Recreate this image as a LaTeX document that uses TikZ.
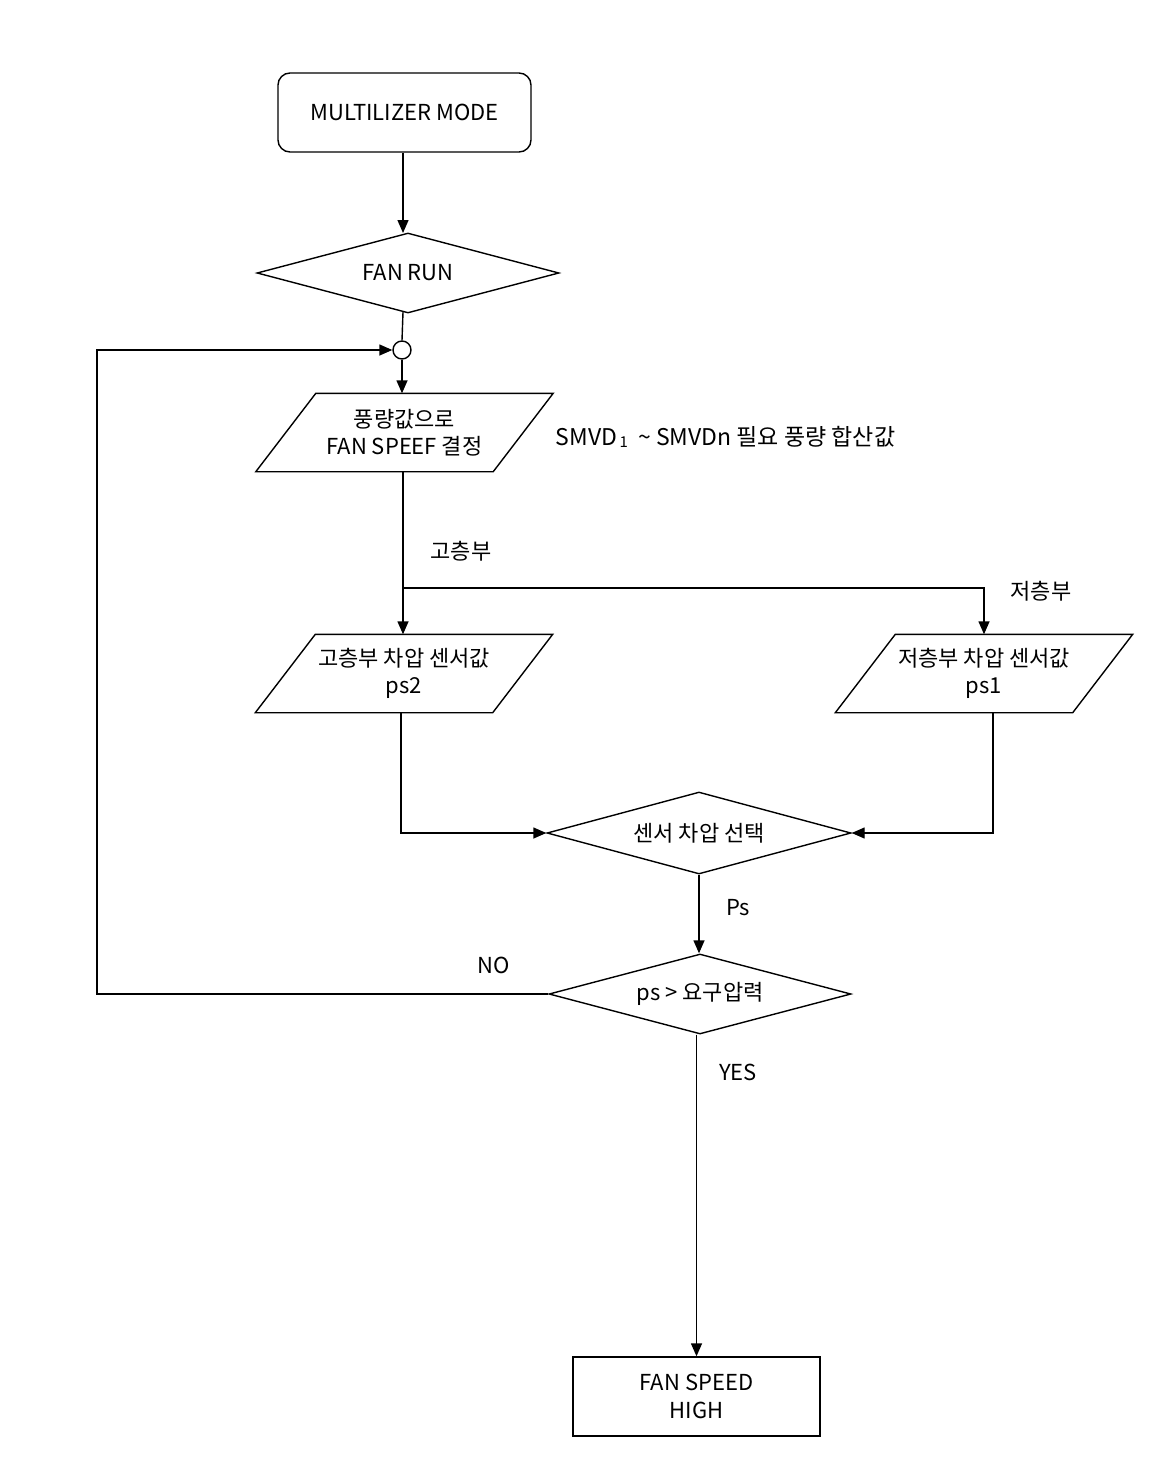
\documentclass[tikz,border=0pt]{standalone}
\usepackage{fontspec}
\setmainfont{Noto Sans CJK KR}
\usetikzlibrary{shapes.geometric,arrows.meta}
\tikzset{
  base/.style={font=\fontsize{22}{27.5}\selectfont, align=center, inner sep=0pt},
  startbox/.style={base, draw, rounded corners=12pt, minimum width=253pt, minimum height=79pt},
  endbox/.style={base, draw, minimum width=247pt, minimum height=79pt},
  decision/.style={base, draw, diamond, aspect=3.8, minimum width=302pt, minimum height=80pt},
  parabox/.style={base, minimum width=236pt, minimum height=77pt},
  junction/.style={draw, circle, minimum size=18pt, inner sep=0pt},
  lbl/.style={font=\fontsize{22}{26}\selectfont, inner sep=0pt},
  arr/.style={-{Triangle[length=13pt,width=11pt]}},
  ln/.style={line width=1.4pt}
}
\newcommand{\paraframe}[1]{%
  \draw[ln] ([xshift=30pt]#1.north west) -- ([xshift=30pt]#1.north east)
    -- ([xshift=-30pt]#1.south east) -- ([xshift=-30pt]#1.south west) -- cycle;}
\begin{document}
\begin{tikzpicture}[x=1pt,y=-1pt, line width=1.4pt]
\useasboundingbox[fill=white] (0,0) rectangle (1151,1480);

\node[startbox] (start) at (404.5,112.5) {MULTILIZER MODE};
\node[decision] (run) at (408,273) {FAN RUN};
\node[junction] (jn) at (402,350) {};
\node[parabox] (p1) at (404.5,432.5) {풍량값으로\\FAN SPEEF 결정};
\paraframe{p1}
\node[parabox] (p2) at (404,673.5) {고층부 차압 센서값\\ps2};
\paraframe{p2}
\node[parabox] (p3) at (984,673.5) {저층부 차압 센서값\\ps1};
\paraframe{p3}
\node[decision, minimum height=82pt, minimum width=304pt] (sel) at (699,833) {센서 차압 선택};
\node[decision] (cmp) at (700,994) {ps \textgreater{} 요구압력};
\node[endbox] (high) at (696.5,1396.5) {FAN SPEED\\HIGH};

\node[lbl, anchor=west, font=\fontsize{23}{26}\selectfont] (note) at (555,437) {SMVD\raisebox{-0.12em}{\fontsize{15}{15}\selectfont\,1}\ \ \textasciitilde\ SMVDn 필요 풍량 합산값};
\node[lbl] (lhigh) at (461,551) {고층부};
\node[lbl] (llow) at (1041,591) {저층부};
\node[lbl] (lps) at (738,908) {Ps};
\node[lbl] (lno) at (494,965) {NO};
\node[lbl] (lyes) at (738,1072) {YES};

\coordinate (loopx) at (97,0);
\coordinate (br) at (403,588);

\draw[arr] (start.south -| 403,0) -- (403,233);
\draw (403,312) -- (jn.north);
\draw[arr] (jn.south) -- (p1.north -| jn.south);
\draw[arr] (p1.south -| 403,0) -- (p2.north -| 403,0);
\draw[arr] (br) -| (p3.north);
\draw[arr] (p2.south -| 401,0) |- (sel.west);
\draw[arr] (p3.south -| 993,0) |- (sel.east);
\draw[arr] (sel.south) -- (cmp.north -| sel.south);
\draw[arr] (cmp.west) -- (cmp.west -| loopx) |- (jn.west);
\draw[arr] (cmp.south -| high.north) -- (high.north);
\end{tikzpicture}
\end{document}
